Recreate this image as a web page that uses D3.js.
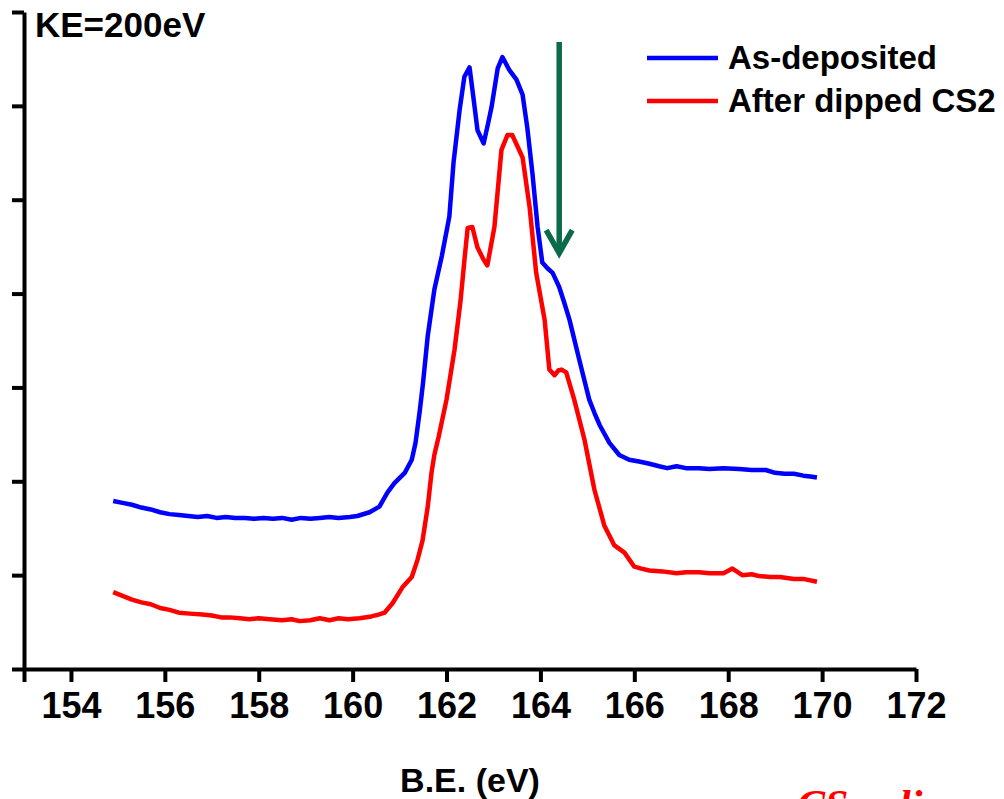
<!DOCTYPE html>
<html>
<head>
<meta charset="utf-8">
<script src="https://cdn.jsdelivr.net/npm/d3@7"></script>
<style>
  html, body { margin: 0; padding: 0; background: #fff; overflow: hidden; }
  text { font-family: "Liberation Sans", Arial, sans-serif; font-weight: bold; }
</style>
</head>
<body>
<svg id="chart" width="1004" height="799"></svg>
<script>
// B.E. (eV) vs intensity (a.u.)
const asDeposited = [
  [154.9,1.79],[155.1,1.77],[155.3,1.75],[155.5,1.72],[155.7,1.70],[155.9,1.67],[156.1,1.65],[156.3,1.64],
  [156.5,1.63],[156.7,1.62],[156.9,1.63],[157.1,1.61],[157.3,1.62],[157.5,1.61],[157.7,1.61],[157.9,1.60],
  [158.1,1.61],[158.3,1.60],[158.5,1.61],[158.7,1.59],[158.9,1.61],[159.1,1.60],[159.3,1.61],[159.5,1.62],
  [159.7,1.61],[159.94,1.62],[160.1,1.63],[160.36,1.67],[160.57,1.73],[160.74,1.88],[160.89,1.98],[161.11,2.09],
  [161.26,2.23],[161.34,2.41],[161.43,2.75],[161.5,3.05],[161.6,3.55],[161.74,4.04],[161.9,4.40],[162.06,4.82],
  [162.15,5.40],[162.28,5.96],[162.38,6.31],[162.49,6.41],[162.57,6.10],
  [162.66,5.74],[162.79,5.60],[162.88,5.80],[162.96,5.99],[163.09,6.40],[163.19,6.52],[163.34,6.38],[163.49,6.28],
  [163.62,6.12],[163.72,5.77],[163.83,5.28],[163.94,4.71],[164.04,4.33],[164.15,4.27],[164.26,4.22],[164.40,4.07],
  [164.51,3.90],[164.62,3.72],[164.83,3.29],[165.04,2.87],[165.15,2.73],[165.26,2.60],[165.47,2.41],[165.68,2.28],
  [165.89,2.23],[166.1,2.21],[166.3,2.19],[166.53,2.16],[166.7,2.14],[166.9,2.16],[167.1,2.14],[167.38,2.14],
  [167.6,2.13],[167.9,2.14],[168.23,2.13],[168.5,2.12],[168.8,2.12],[169.0,2.09],[169.2,2.08],[169.4,2.08],
  [169.6,2.06],[169.75,2.05],[169.89,2.04]
];
const afterDipped = [
  [154.9,0.82],[155.1,0.78],[155.3,0.74],[155.5,0.71],[155.7,0.69],[155.9,0.65],[156.1,0.63],[156.3,0.60],
  [156.53,0.59],[156.8,0.58],[157.0,0.57],[157.2,0.55],[157.38,0.55],[157.6,0.54],[157.8,0.53],[158.0,0.54],
  [158.23,0.53],[158.5,0.52],[158.7,0.53],[158.87,0.51],[159.1,0.52],[159.3,0.54],[159.51,0.52],[159.7,0.54],
  [159.9,0.53],[160.15,0.54],[160.4,0.56],[160.55,0.58],[160.68,0.60],[160.85,0.70],[161.06,0.87],[161.26,0.98],
  [161.38,1.16],[161.49,1.37],[161.6,1.73],[161.68,2.09],[161.74,2.28],[161.83,2.47],
  [162.0,2.87],[162.17,3.40],[162.30,3.93],[162.38,4.35],[162.45,4.70],[162.55,4.71],[162.66,4.49],[162.78,4.37],[162.87,4.30],
  [163.02,4.71],[163.17,5.53],[163.30,5.69],[163.40,5.69],[163.62,5.45],[163.77,4.92],[163.91,4.22],[164.09,3.72],
  [164.19,3.19],[164.30,3.13],[164.38,3.18],[164.45,3.19],[164.55,3.16],[164.72,2.87],[164.94,2.44],[165.15,1.91],
  [165.36,1.53],[165.57,1.32],[165.79,1.24],[166.0,1.09],[166.15,1.07],[166.32,1.05],[166.6,1.04],[166.9,1.02],
  [167.1,1.03],[167.38,1.03],[167.6,1.02],[167.9,1.02],[168.09,1.07],[168.3,1.00],[168.5,1.01],[168.66,0.99],
  [168.9,0.98],[169.1,0.98],[169.4,0.96],[169.6,0.96],[169.89,0.93]
];
const seriesNames = ['As-deposited', 'After dipped CS2'];
const seriesColors = ['#0000ff', '#ff0000'];
const xTicks = [154, 156, 158, 160, 162, 164, 166, 168, 170, 172];
const arrowAt = [164.4, 6.68, 4.43]; // x, y from, y to

const svg = d3.select('#chart');

const x = d3.scaleLinear().domain([153, 172]).range([24, 916]);
const y = d3.scaleLinear().domain([0, 7]).range([669, 12]);

// axes
const xAxis = svg.append('g').attr('transform', 'translate(0,669)');
xAxis.call(d3.axisBottom(x).tickValues(d3.range(153, 172.5, 1)).tickFormat('').tickSize(6).tickSizeOuter(0));
xAxis.call(d3.axisBottom(x).tickValues([153].concat(xTicks)).tickFormat(d => d === 153 ? '' : d).tickSize(13).tickSizeOuter(0).tickPadding(10));
xAxis.selectAll('path, line').attr('stroke', '#000').attr('stroke-width', 4);
xAxis.selectAll('text').style('font-size', '36px').attr('fill', '#000');

const yAxis = svg.append('g').attr('transform', 'translate(24,0)');
yAxis.call(d3.axisLeft(y).tickValues(d3.range(0.5, 7, 1)).tickFormat('').tickSize(6).tickSizeOuter(0));
yAxis.call(d3.axisLeft(y).tickValues(d3.range(0, 7.5, 1)).tickFormat('').tickSize(12).tickSizeOuter(0));
yAxis.selectAll('path, line').attr('stroke', '#000').attr('stroke-width', 4);

// curves
const line = d3.line().x(d => x(d[0])).y(d => y(d[1]));
svg.selectAll('path.curve')
  .data([asDeposited, afterDipped])
  .enter()
  .append('path')
  .attr('class', 'curve')
  .attr('d', line)
  .attr('fill', 'none')
  .attr('stroke', (d, i) => seriesColors[i])
  .attr('stroke-width', 4.5)
  .attr('stroke-linejoin', 'round');

// arrow
const ax = x(arrowAt[0]), ay1 = y(arrowAt[1]), ay2 = y(arrowAt[2]);
svg.append('line')
  .attr('x1', ax).attr('y1', ay1).attr('x2', ax).attr('y2', ay2 - 2)
  .attr('stroke', '#0a6a4a').attr('stroke-width', 5.5);
svg.append('polyline')
  .attr('points', `${ax - 13},${ay2 - 23} ${ax},${ay2} ${ax + 13},${ay2 - 23}`)
  .attr('fill', 'none').attr('stroke', '#0a6a4a').attr('stroke-width', 5.5);

// legend
const legend = svg.selectAll('g.legend')
  .data(seriesNames)
  .enter()
  .append('g')
  .attr('class', 'legend')
  .attr('transform', (d, i) => `translate(647,${58 + i * 43})`);
legend.append('line')
  .attr('x1', 0).attr('x2', 71)
  .attr('stroke', (d, i) => seriesColors[i])
  .attr('stroke-width', 4.5);
legend.append('text')
  .attr('x', 81).attr('y', 11)
  .style('font-size', '33px')
  .text(d => d);

// labels
svg.append('text')
  .attr('x', 35).attr('y', 37)
  .style('font-size', '35px')
  .text('KE=200eV');

svg.append('text')
  .attr('x', 470).attr('y', 792)
  .attr('text-anchor', 'middle')
  .style('font-size', '34px')
  .text('B.E. (eV)');

// red note running off the bottom edge, as in the source slide
const note = svg.append('text')
  .attr('x', 797).attr('y', 819)
  .style('font-family', '"Liberation Serif", "Times New Roman", serif')
  .style('font-style', 'italic')
  .style('font-weight', 'bold')
  .style('font-size', '42px')
  .attr('fill', '#ff0000');
note.append('tspan').text('CS');
note.append('tspan').attr('dy', 8).style('font-size', '26px').text('2');
note.append('tspan').attr('x', 899).attr('dy', -8).text('line');
</script>
</body>
</html>
